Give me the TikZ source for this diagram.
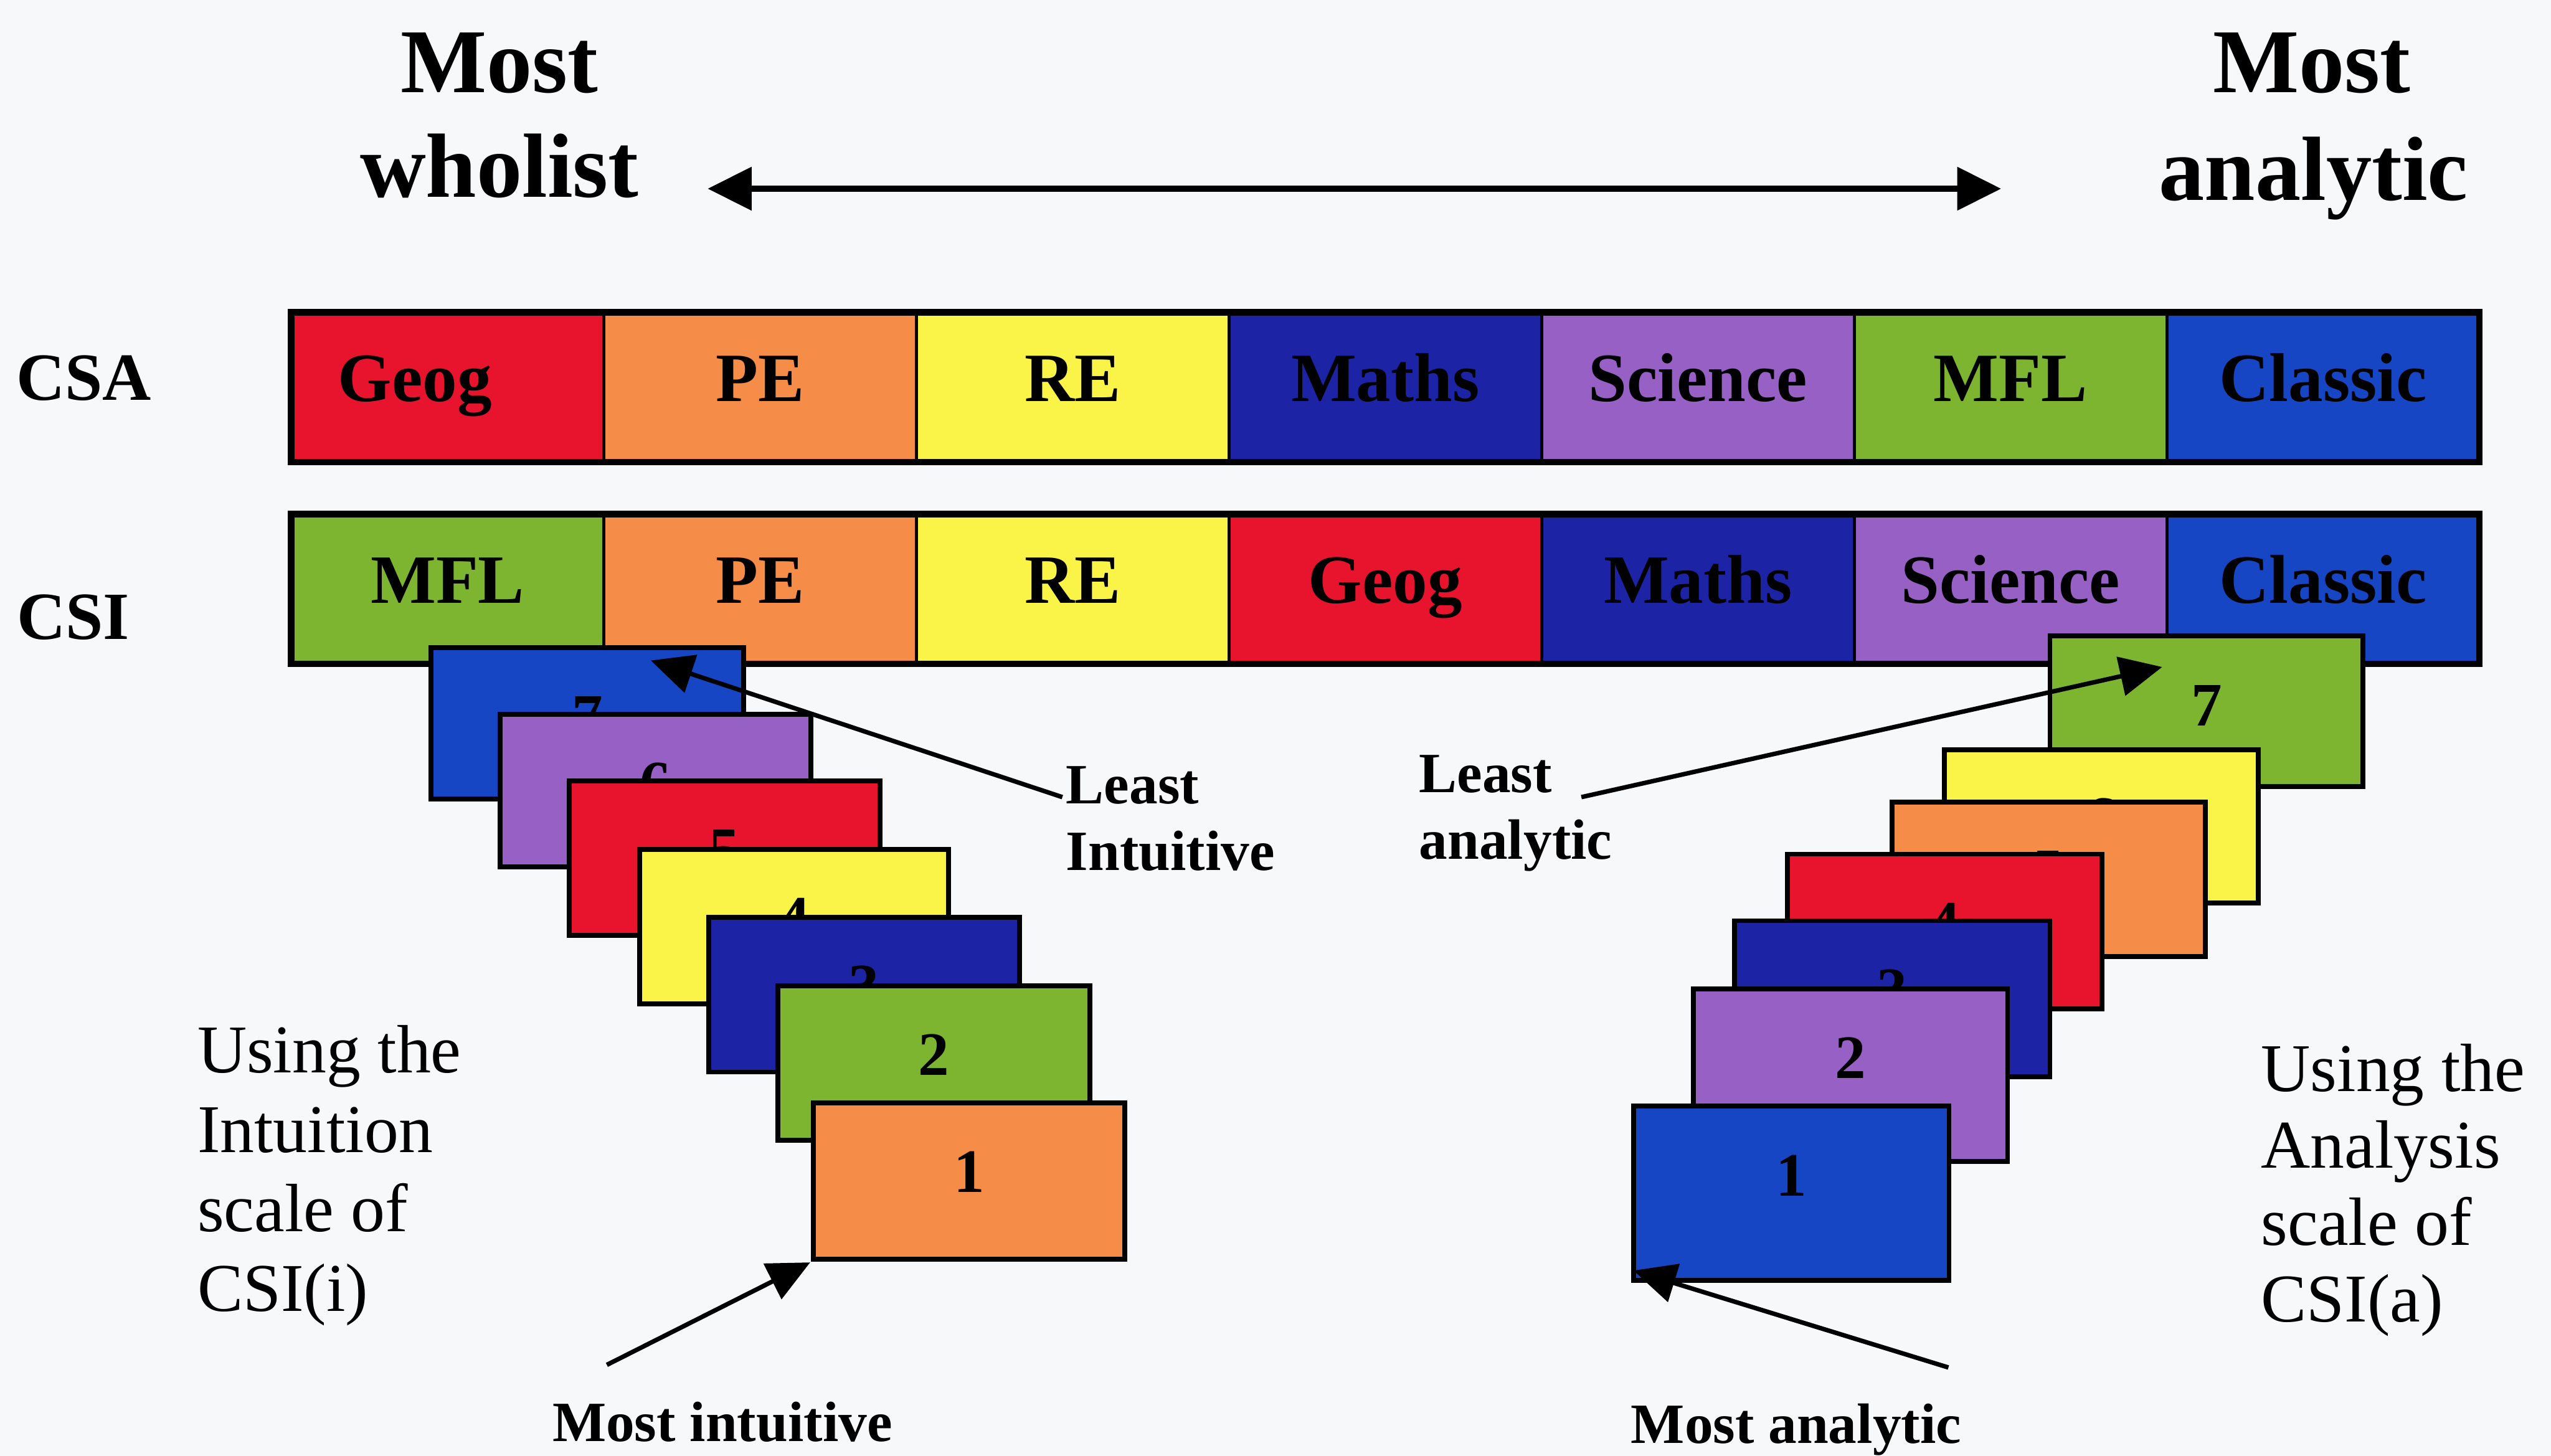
\documentclass[tikz,border=0pt]{standalone}
\usepackage{fontspec}
\setmainfont{Liberation Serif}
\usetikzlibrary{arrows.meta}

\definecolor{paper}{RGB}{247,248,250}
\definecolor{cRed}{RGB}{232,20,45}
\definecolor{cOrange}{RGB}{245,140,72}
\definecolor{cYellow}{RGB}{250,244,72}
\definecolor{cNavy}{RGB}{28,36,165}
\definecolor{cPurple}{RGB}{150,96,196}
\definecolor{cGreen}{RGB}{125,180,48}
\definecolor{cBlue}{RGB}{22,70,195}

% one card of a stack: name, x, y (top left), width, height, colour, number
\newcommand{\cardat}[7]{%
  \node[cardbox, fill=#6, minimum width={#4*0.2mm}, minimum height={#5*0.2mm}]
    (#1) at (#2,#3) {};
  \node[cardnum] (#1n) at ([yshift=-11mm]#1.north) {#7};
}

\begin{document}
\begin{tikzpicture}[x=0.2mm, y=-0.2mm,
  big/.style={font=\fontsize{31.9}{36}\selectfont\bfseries, inner sep=0pt},
  rowlab/.style={font=\fontsize{23.6}{28}\selectfont\bfseries, inner sep=0pt},
  cell/.style={draw=black, line width=0.4mm, outer sep=0pt, inner sep=0pt,
    minimum width=38.43mm, minimum height=18.4mm,
    font=\fontsize{24.2}{28}\selectfont\bfseries, text height=17pt, text depth=7pt},
  cardbox/.style={draw=black, line width=0.6mm, inner sep=0pt, outer sep=0pt, anchor=north west},
  cardnum/.style={font=\fontsize{21.6}{24}\selectfont\bfseries, anchor=base, inner sep=0pt},
  note/.style={font=\fontsize{19.9}{23.3}\selectfont\bfseries, inner sep=0pt, align=left},
  usetext/.style={font=\fontsize{23.9}{27.8}\selectfont, inner sep=0pt, align=left},
  pointer/.style={line width=0.55mm, -{Triangle[length=5.2mm,width=4.8mm]}},
  span/.style={line width=0.75mm, {Triangle[length=5.4mm,width=5.2mm]}-{Triangle[length=5.4mm,width=5.2mm]}}
]
\useasboundingbox (0,0) rectangle (1568,895);
\fill[paper] (0,0) rectangle (1568,895);

% scale heading
\node[big, anchor=base] (mostW) at (307,57) {Most};
\node[big, anchor=base] (wholist) at (307,121) {wholist};
\node[big, anchor=base] (mostA) at (1421,57) {Most};
\node[big, anchor=base] (analytic) at (1422,123) {analytic};
\coordinate (spanL) at (435,116);
\coordinate (spanR) at (1230,116);
\draw[span] (spanL) -- (spanR);

% subject rows (third field: space put before a centred label, in mm)
\node[rowlab, anchor=base] (csaLab) at (51.5,246) {CSA};
\node[rowlab, anchor=base] (csiLab) at (45,393) {CSI};
\foreach \c/\t/\s [count=\i] in {cRed/Geog/-8, cOrange/PE/0, cYellow/RE/0, cNavy/Maths/0,
    cPurple/Science/0, cGreen/MFL/0, cBlue/Classic/0}
  \node[cell, fill=\c, text width=38.43mm, align=center]
    (csa\i) at ({179+(\i-0.5)*192.14}, 238) {\hspace*{\s mm}\t};
\draw[line width=0.8mm] (csa1.north west) rectangle (csa7.south east);
\foreach \c/\t [count=\i] in {cGreen/MFL, cOrange/PE, cYellow/RE, cRed/Geog,
    cNavy/Maths, cPurple/Science, cBlue/Classic}
  \node[cell, fill=\c] (csi\i) at ({179+(\i-0.5)*192.14}, 362) {\t};
\draw[line width=0.8mm] (csi1.north west) rectangle (csi7.south east);

% intuition stack, back to front
\cardat{L7}{265}{398}{192}{93}{cBlue}{7}
\cardat{L6}{307.5}{439}{191}{94}{cPurple}{6}
\cardat{L5}{350}{480}{191}{95}{cRed}{5}
\cardat{L4}{393}{522}{190}{95}{cYellow}{4}
\cardat{L3}{435.5}{564}{191}{95}{cNavy}{3}
\cardat{L2}{478}{606}{192}{95}{cGreen}{2}
\cardat{L1}{500}{678}{191.5}{96}{cOrange}{1}

% analysis stack, back to front
\cardat{R7}{1260}{391}{192.5}{92.5}{cGreen}{7}
\cardat{R6}{1195}{461}{193}{94}{cYellow}{6}
\cardat{R5}{1163}{493}{192.5}{95}{cOrange}{5}
\cardat{R4}{1098.5}{525}{193.5}{95}{cRed}{4}
\cardat{R3}{1066}{566}{194}{96}{cNavy}{3}
\cardat{R2}{1041}{608}{193}{106}{cPurple}{2}
\cardat{R1}{1004}{680}{194}{107}{cBlue}{1}

% notes (base anchor sits on the last line)
\node[note, anchor=base west] (leastI) at (655,535) {Least\\Intuitive};
\node[note, anchor=base west] (leastA) at (872,528) {Least\\analytic};
\node[note, anchor=base] (mostI) at (444,886) {Most intuitive};
\node[note, anchor=base] (mostAn) at (1104,887) {Most analytic};
\node[usetext, anchor=base west] (useI) at (121,806) {Using the\\Intuition\\scale of\\CSI(i)};
\node[usetext, anchor=base west, font=\fontsize{23.9}{26.9}\selectfont] (useA) at (1389.5,812.6) {Using the\\Analysis\\scale of\\CSI(a)};

% pointers
\coordinate (liTail) at (653,490);
\coordinate (laTail) at (972,490);
\coordinate (miTail) at (373,839);
\coordinate (maTail) at (1197.6,840.6);
\draw[pointer] (liTail) -- ([xshift=27mm,yshift=-1.6mm]L7.north west);
\draw[pointer] (laTail) -- ([xshift=13.8mm,yshift=-3.8mm]R7.north west);
\draw[pointer] (miTail) -- ([xshift=-0.4mm,yshift=-0.4mm]L1.south west);
\draw[pointer] (maTail) -- ([yshift=1.2mm]R1.south west);
\end{tikzpicture}
\end{document}
